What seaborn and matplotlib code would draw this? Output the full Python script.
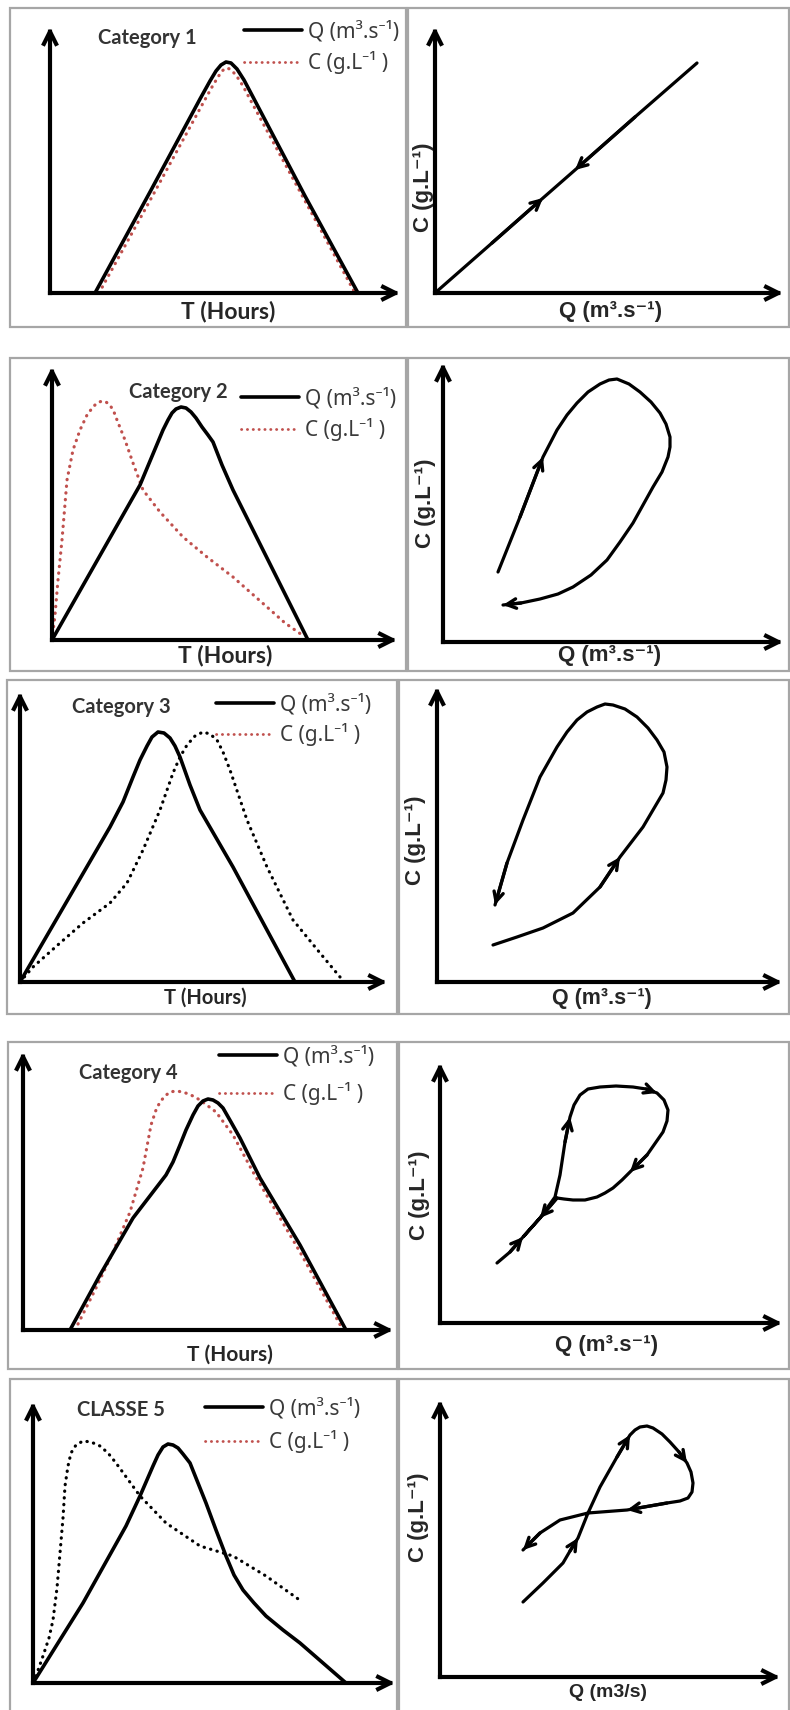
import numpy as np
import pandas as pd
import seaborn as sns
import matplotlib.pyplot as plt
from matplotlib.lines import Line2D
from matplotlib.patches import Rectangle

# schematic values, in pixels from each panel origin
# category 1
q1_t = [45, 100, 150, 160, 166, 171, 176, 181, 187, 194, 203, 255, 308]
q1_v = [0, 101, 194, 212, 222, 228, 231, 230, 224, 213, 196, 97, 0]
c1_t = [49, 103, 152, 162, 168, 172, 176, 180, 186, 193, 202, 254, 305]
c1_v = [0, 98, 188, 206, 216, 222, 225, 224, 218, 207, 190, 94, 0]
loop1_q = [0, 57, 108, 140, 200, 262]
loop1_c = [0, 50, 95, 123, 176, 230]
arrows1 = [(1, 2), (4, 3)]

# category 2
q2_t = [0, 88, 111, 116, 120, 124, 129, 134, 139, 144, 150, 156, 161, 170, 181, 256]
q2_v = [0, 155, 210, 220, 227, 231, 233, 232, 228, 222, 213, 205, 198, 175, 150, 0]
c2_t = [0, 3, 6, 10, 15, 21, 28, 35, 41, 45, 50, 54, 58, 62, 65, 73, 81, 91, 108, 131, 155, 181, 215, 233, 253]
c2_v = [0, 25, 60, 100, 160, 190, 210, 225, 233, 237, 239, 238, 235, 228, 220, 200, 177, 150, 128, 103, 83, 63, 33, 17, 3]
loop2_q = [55, 77, 100, 114, 124, 134, 145, 157, 166, 174, 186, 197, 208, 217, 223, 227, 227, 225,
           219, 210, 200, 190, 177, 164, 148, 130, 115, 97, 78, 60]
loop2_c = [70, 125, 185, 212, 227, 239, 250, 258, 262, 263, 258, 250, 240, 229, 218, 205, 195, 185,
           170, 155, 137, 119, 100, 82, 67, 55, 48, 43, 39, 37]
arrows2 = [(1, 2), (28, 29)]

# category 3
q3_t = [0, 90, 103, 113, 120, 127, 132, 138, 144, 150, 155, 160, 170, 180, 213, 275]
q3_v = [0, 155, 180, 205, 222, 236, 245, 250, 249, 244, 236, 225, 197, 172, 115, 0]
c3_t = [0, 13, 40, 63, 90, 107, 123, 140, 153, 160, 167, 175, 183, 190, 197, 203, 210, 227, 247, 273, 300, 320]
c3_v = [0, 15, 39, 59, 79, 99, 132, 172, 209, 225, 237, 246, 250, 248, 242, 230, 212, 162, 115, 62, 29, 5]
loop3_q = [56, 80, 106, 136, 163, 183, 206, 226, 229, 230, 227, 220, 211, 200, 188, 176, 168, 160,
           150, 140, 130, 120, 103, 86, 70, 58]
loop3_c = [37, 45, 54, 69, 95, 125, 155, 189, 202, 215, 230, 242, 254, 265, 273, 277, 278, 275,
           270, 262, 250, 235, 205, 162, 119, 77]
arrows3 = [(4, 5), (24, 25)]

# category 4
q4_t = [47, 77, 110, 143, 150, 157, 163, 170, 175, 180, 185, 190, 195, 200, 208, 217, 237, 277, 323]
q4_v = [0, 55, 112, 155, 168, 185, 200, 215, 224, 229, 231, 230, 227, 222, 208, 192, 152, 85, 0]
c4_t = [52, 73, 90, 107, 120, 128, 133, 137, 142, 147, 153, 160, 168, 177, 193, 210, 230, 277, 320]
c4_v = [0, 42, 78, 118, 162, 205, 220, 228, 234, 238, 239, 238, 235, 230, 218, 195, 158, 78, 0]
loop4_q = [57, 70, 83, 100, 115, 120, 125, 130, 134, 140, 148, 160, 176, 193, 206, 217, 224, 228,
           227, 223, 207, 190, 182, 173, 165, 157, 145, 133, 124, 117, 100, 84]
loop4_c = [60, 71, 86, 105, 126, 148, 181, 206, 218, 228, 234, 236, 237, 236, 234, 230, 223, 213,
           202, 191, 168, 151, 143, 135, 130, 126, 123, 123, 124, 125, 105, 87]
arrows4 = [(1, 2), (6, 7), (14, 15), (20, 21), (29, 30)]

# classe 5
q5_t = [0, 50, 93, 107, 120, 125, 130, 135, 140, 145, 150, 157, 165, 173, 183, 193, 201, 210,
        221, 233, 250, 267, 290, 313]
q5_v = [0, 80, 157, 187, 217, 228, 236, 239, 238, 235, 229, 220, 200, 180, 153, 127, 108, 93,
        80, 67, 53, 40, 20, 0]
c5_t = [3, 10, 16, 20, 24, 27, 30, 32, 35, 38, 43, 50, 58, 67, 75, 83, 107, 133, 167, 200, 233, 268]
c5_v = [7, 27, 45, 63, 95, 130, 165, 197, 217, 230, 238, 242, 241, 237, 230, 220, 187, 160, 137, 127, 107, 82]
loop5_q = [83, 103, 123, 130, 138, 148, 160, 177, 190, 195, 200, 207, 213, 222, 230, 239, 247, 251,
           253, 252, 248, 240, 227, 187, 148, 120, 100, 83]
loop5_c = [75, 94, 114, 126, 139, 164, 190, 220, 242, 247, 250, 251, 249, 243, 235, 225, 214, 205,
           194, 185, 179, 176, 174, 167, 164, 157, 144, 127]
arrows5 = [(3, 4), (7, 8), (15, 16), (22, 23), (26, 27)]

titles = ["Category 1", "Category 2", "Category 3", "Category 4", "CLASSE 5"]
q_labels = ["Q (m³.s⁻¹)", "Q (m³.s⁻¹)", "Q (m³.s⁻¹)", "Q (m³.s⁻¹)", "Q (m3/s)"]
legend_labels = ["Q (m³.s⁻¹)", "C (g.L⁻¹ )"]

W, H = 790, 1710
RED = "#c0504d"

sns.set_theme(style="white")
plt.rcParams["font.family"] = ["Liberation Sans", "DejaVu Sans"]

fig = plt.figure(figsize=(W / 100, H / 100), dpi=100)


def fx(px):
    return px / W


def fy(py):
    return 1 - py / H


def panel_ax(x0, y0, x1, y1):
    # x0,y0 = origin in figure pixels, x1 = x arrow tip, y1 = y arrow tip
    ax = fig.add_axes([fx(x0), fy(y0), (x1 - x0) / W, (y0 - y1) / H])
    ax.set_xlim(0, x1 - x0)
    ax.set_ylim(0, y0 - y1)
    ax.axis("off")
    for xy in [(1, 0), (0, 1)]:
        ax.annotate("", xy=xy, xytext=(0, 0), xycoords="axes fraction",
                    textcoords="axes fraction", annotation_clip=False,
                    arrowprops=dict(arrowstyle="->", lw=3, color="black",
                                    mutation_scale=22, shrinkA=0, shrinkB=0,
                                    capstyle="projecting"))
    return ax


def draw_curve(ax, xs, ys, color, dotted=False, lw=2.4):
    df = pd.DataFrame({"x": xs, "y": ys})
    if dotted:
        kw = dict(linestyle=(0, (0.1, 2.0)), dash_capstyle="round")
    else:
        kw = dict(solid_capstyle="round", solid_joinstyle="round")
    sns.lineplot(data=df, x="x", y="y", sort=False, estimator=None,
                 color=color, lw=lw, ax=ax, legend=False, **kw)


def draw_arrows(ax, xs, ys, pairs):
    for a, b in pairs:
        ax.annotate("", xy=(xs[b], ys[b]), xytext=(xs[a], ys[a]),
                    arrowprops=dict(arrowstyle="->", lw=2.4, color="black",
                                    mutation_scale=17, shrinkA=0, shrinkB=0))


# frames (figure pixels): left box, right box
boxes = [((10, 8, 406, 327), (408, 8, 789, 327)),
         ((10, 358, 406, 671), (408, 358, 789, 671)),
         ((7, 680, 397, 1014), (399, 680, 789, 1014)),
         ((8, 1042, 397, 1369), (399, 1042, 789, 1369)),
         ((10, 1379, 397, 1712), (399, 1379, 789, 1712))]
for pair in boxes:
    for (x0, y0, x1, y1) in pair:
        fig.patches.append(Rectangle((fx(x0), fy(y1)), (x1 - x0) / W, (y1 - y0) / H,
                                     transform=fig.transFigure, fill=False,
                                     edgecolor="#a6a6a6", lw=1.6))

left_geo = [(50, 293, 400, 27), (52, 640, 397, 367), (20, 982, 387, 692),
            (23, 1330, 393, 1052), (33, 1683, 395, 1402)]
right_geo = [(435, 293, 783, 27), (443, 642, 783, 363), (437, 982, 782, 687),
             (440, 1323, 782, 1063), (440, 1677, 780, 1400)]

hydro = [(q1_t, q1_v, c1_t, c1_v, RED), (q2_t, q2_v, c2_t, c2_v, RED),
         (q3_t, q3_v, c3_t, c3_v, "black"), (q4_t, q4_v, c4_t, c4_v, RED),
         (q5_t, q5_v, c5_t, c5_v, "black")]
loops = [(loop1_q, loop1_c, arrows1), (loop2_q, loop2_c, arrows2),
         (loop3_q, loop3_c, arrows3), (loop4_q, loop4_c, arrows4),
         (loop5_q, loop5_c, arrows5)]

# text positions (figure pixels)
title_pos = [(147, 38), (178, 392), (121, 707), (128, 1073), (121, 1410)]
legend_pos = [(244, 21), (241, 388), (216, 694), (219, 1046), (205, 1398)]
legend_gap = [0.42, 0.42, 0.38, 0.7, 0.52]
t_pos = [(228, 312, 16.5), (225, 655, 16.5), (205, 998, 14.5), (230, 1355, 15), None]
q_pos = [(611, 312, 16), (610, 656, 16), (602, 998, 15.5), (607, 1345, 16), (608, 1692, 14)]
c_pos = [(423, 187), (425, 503), (415, 840), (420, 1195), (418, 1517)]

handles = [Line2D([], [], color="black", lw=2.6),
           Line2D([], [], color=RED, lw=2.0, linestyle=(0, (0.1, 2.0)),
                  dash_capstyle="round")]

for i in range(5):
    ax = panel_ax(*left_geo[i])
    qt, qv, ct, cv, ccol = hydro[i]
    draw_curve(ax, ct, cv, ccol, dotted=True, lw=2.3)
    draw_curve(ax, qt, qv, "black", lw=2.6)
    ax.set_xlim(0, left_geo[i][2] - left_geo[i][0])
    ax.set_ylim(0, left_geo[i][1] - left_geo[i][3])
    lx, ly = legend_pos[i]
    ax.legend(handles, legend_labels, loc="upper left",
              bbox_to_anchor=(fx(lx), fy(ly)), bbox_transform=fig.transFigure,
              frameon=False, handlelength=2.8, handletextpad=0.25,
              labelspacing=legend_gap[i], borderpad=0, borderaxespad=0,
              prop={"family": ["Noto Sans", "DejaVu Sans"], "size": 15},
              labelcolor="#3a3a3a")
    tx, ty = title_pos[i]
    fig.text(fx(tx), fy(ty), titles[i], ha="center", va="center", fontsize=14.5,
             fontweight="bold", color="#333333",
             family=["Lato", "DejaVu Sans"])
    if t_pos[i] is not None:
        x, y, s = t_pos[i]
        fig.text(fx(x), fy(y), "T (Hours)", ha="center", va="center", fontsize=s,
                 fontweight="bold", family=["Lato", "DejaVu Sans"])

    ax = panel_ax(*right_geo[i])
    lq, lc, arr = loops[i]
    draw_curve(ax, lq, lc, "black", lw=2.3)
    draw_arrows(ax, lq, lc, arr)
    ax.set_xlim(0, right_geo[i][2] - right_geo[i][0])
    ax.set_ylim(0, right_geo[i][1] - right_geo[i][3])
    x, y, s = q_pos[i]
    fig.text(fx(x), fy(y), q_labels[i], ha="center", va="center", fontsize=s,
             fontweight="bold", family=["Liberation Sans", "DejaVu Sans"])
    x, y = c_pos[i]
    fig.text(fx(x), fy(y), "C (g.L⁻¹)", ha="center", va="center", rotation=90,
             fontsize=16, fontweight="bold",
             family=["Liberation Sans", "DejaVu Sans"])

fig.savefig("out.png", dpi=100, facecolor="white")
